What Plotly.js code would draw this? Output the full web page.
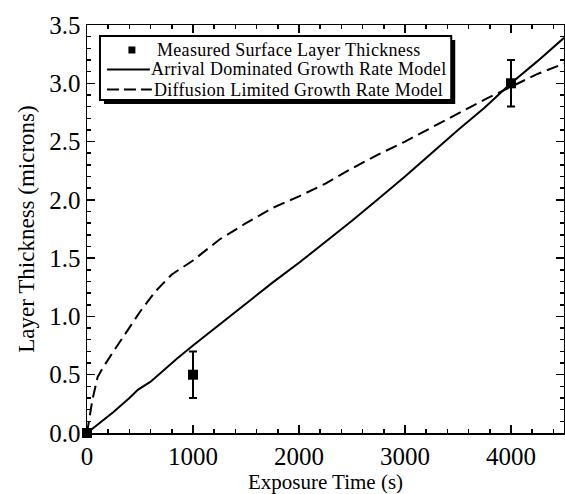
<!DOCTYPE html>
<html>
<head>
<meta charset="utf-8">
<script src="https://cdn.plot.ly/plotly-3.0.1.min.js"></script>
<style>html,body{margin:0;padding:0;background:#fff;}#chart{width:565px;height:494px;}
.annotation-text{letter-spacing:0.3px;}</style>
</head>
<body>
<div id="chart"></div>
<script>
// Measured data
const measuredTime = [0, 1000, 4000];
const measuredThickness = [0, 0.5, 3.0];
const measuredError = [0, 0.2, 0.2];

// Arrival dominated growth rate model (solid)
const arrivalTime = [0, 100, 250, 400, 480, 600, 750, 850, 1000, 1250, 1500, 1750, 2000, 2250, 2500, 2750, 3000, 3250, 3500, 3750, 3900, 4000, 4250, 4500];
const arrivalThickness = [0, 0.07, 0.18, 0.3, 0.37, 0.44, 0.56, 0.64, 0.75, 0.93, 1.11, 1.29, 1.46, 1.64, 1.82, 2.01, 2.2, 2.4, 2.6, 2.79, 2.92, 3.0, 3.19, 3.39];

// Diffusion limited growth rate model (dashed)
const diffusionTime = [0, 50, 100, 150, 250, 400, 500, 650, 800, 1000, 1250, 1500, 1750, 2000, 2250, 2500, 2750, 3000, 3250, 3500, 3750, 4000, 4250, 4500];
const diffusionThickness = [0, 0.28, 0.48, 0.56, 0.7, 0.9, 1.04, 1.22, 1.36, 1.48, 1.66, 1.8, 1.93, 2.03, 2.14, 2.27, 2.39, 2.5, 2.62, 2.74, 2.86, 2.97, 3.08, 3.17];

const seriesNames = ["Measured Surface Layer Thickness", "Arrival Dominated Growth Rate Model", "Diffusion Limited Growth Rate Model"];
const xTicks = [0, 1000, 2000, 3000, 4000];
const yTicks = [0, 0.5, 1.0, 1.5, 2.0, 2.5, 3.0, 3.5];
const yTickText = ["0.0", "0.5", "1.0", "1.5", "2.0", "2.5", "3.0", "3.5"];

const FONT = 'Liberation Serif, Times New Roman, Times, serif';

const traces = [
  {
    x: arrivalTime, y: arrivalThickness, name: seriesNames[1],
    type: 'scatter', mode: 'lines',
    line: {color: '#000', width: 2}
  },
  {
    x: diffusionTime, y: diffusionThickness, name: seriesNames[2],
    type: 'scatter', mode: 'lines',
    line: {color: '#000', width: 2, dash: '12px,6px'}
  },
  {
    x: measuredTime, y: measuredThickness, name: seriesNames[0],
    type: 'scatter', mode: 'markers',
    marker: {symbol: 'square', size: 10, color: '#000'},
    error_y: {type: 'data', array: measuredError, visible: true, color: '#000', thickness: 2, width: 4},
    cliponaxis: false
  }
];

// legend geometry helpers (pixel -> paper within plot area)
const L = 87, W = 478, B = 433, H = 408;
const px = v => (v - L) / W;
const py = v => (B - v) / H;

const legendShapes = [
  // shadow
  {type: 'rect', xref: 'paper', yref: 'paper', x0: px(104), x1: px(456), y0: py(104), y1: py(40),
   fillcolor: '#000', line: {width: 0}},
  // box
  {type: 'rect', xref: 'paper', yref: 'paper', x0: px(100), x1: px(452), y0: py(100), y1: py(36),
   fillcolor: '#fff', line: {color: '#000', width: 2}},
  // marker sample
  {type: 'rect', xref: 'paper', yref: 'paper', x0: px(128.5), x1: px(135.5), y0: py(53.5), y1: py(46.5),
   fillcolor: '#000', line: {width: 0}},
  // solid line sample
  {type: 'line', xref: 'paper', yref: 'paper', x0: px(107), x1: px(150), y0: py(69.5), y1: py(69.5),
   line: {color: '#000', width: 2}},
  // dashed line sample
  {type: 'line', xref: 'paper', yref: 'paper', x0: px(107), x1: px(152), y0: py(89.5), y1: py(89.5),
   line: {color: '#000', width: 2, dash: '12px,5px'}}
];

const legendTexts = [
  {text: seriesNames[0], x: px(156), y: py(49.5)},
  {text: seriesNames[1], x: px(150), y: py(69.5)},
  {text: seriesNames[2], x: px(153), y: py(89.5)}
].map(a => ({
  text: a.text, x: a.x, y: a.y, xref: 'paper', yref: 'paper',
  xanchor: 'left', yanchor: 'middle', showarrow: false, borderpad: 0,
  font: {family: FONT, size: 18, color: '#000'}
}));

const layout = {
  width: 565, height: 494,
  margin: {l: 87, r: 1, t: 25, b: 61},
  paper_bgcolor: '#fff', plot_bgcolor: '#fff',
  font: {family: FONT, color: '#000', size: 22},
  showlegend: false,
  xaxis: {
    range: [0, 4500], tickvals: xTicks, ticktext: xTicks.map(String),
    ticks: 'inside', ticklen: 8, tickwidth: 1.5, tickcolor: '#000',
    showline: true, linecolor: '#000', linewidth: 1.5, mirror: 'ticks',
    showgrid: false, zeroline: false,
    minor: {dtick: 200, ticks: 'inside', ticklen: 4, tickcolor: '#000', showgrid: false},
    tickfont: {family: FONT, size: 25},
    title: {text: 'Exposure Time (s)', font: {family: FONT, size: 21}, standoff: 6}
  },
  yaxis: {
    range: [0, 3.5], tickvals: yTicks, ticktext: yTickText,
    ticks: 'inside', ticklen: 8, tickwidth: 1.5, tickcolor: '#000',
    showline: true, linecolor: '#000', linewidth: 1.5, mirror: 'ticks',
    showgrid: false, zeroline: false,
    minor: {dtick: 0.1, ticks: 'inside', ticklen: 4, tickcolor: '#000', showgrid: false},
    tickfont: {family: FONT, size: 25},
    title: {text: 'Layer Thickness (microns)', font: {family: FONT, size: 23}, standoff: 8}
  },
  shapes: legendShapes,
  annotations: legendTexts
};

Plotly.newPlot('chart', traces, layout, {staticPlot: true, displayModeBar: false});
</script>
</body>
</html>
